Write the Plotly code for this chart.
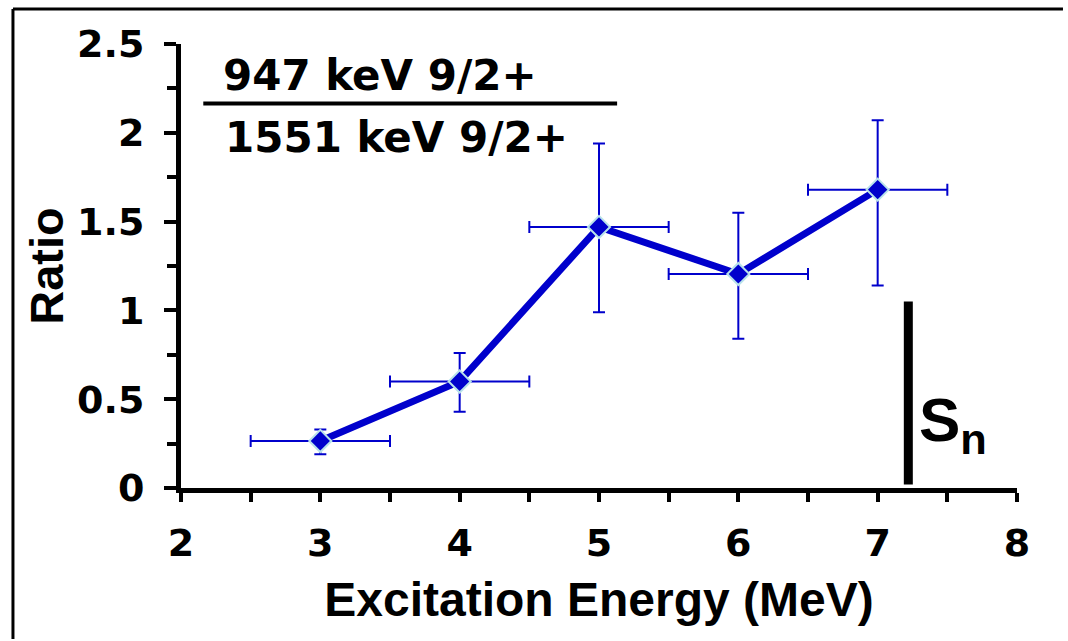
import plotly.graph_objects as go

# Data
energy = [3, 4, 5, 6, 7]
ratio = [0.265, 0.60, 1.47, 1.205, 1.68]
ratio_low = [0.19, 0.43, 0.99, 0.84, 1.14]
ratio_high = [0.33, 0.76, 1.94, 1.55, 2.07]
energy_halfwidth = [0.5, 0.5, 0.5, 0.5, 0.5]
sn_energy = 7.22
sn_range = [0.02, 1.05]
numerator_label = "947 keV 9/2+"
denominator_label = "1551 keV 9/2+"
x_ticks = [2, 3, 4, 5, 6, 7, 8]
y_ticks = [0, 0.5, 1, 1.5, 2, 2.5]
y_tick_text = ["0", "0.5", "1", "1.5", "2", "2.5"]

blue = "#0000CC"
err_plus = [h - v for h, v in zip(ratio_high, ratio)]
err_minus = [v - l for v, l in zip(ratio, ratio_low)]

fig = go.Figure()
fig.add_trace(go.Scatter(
    x=energy, y=ratio, mode="lines+markers",
    line=dict(color=blue, width=7),
    marker=dict(symbol="diamond", size=17, color=blue,
                line=dict(color="#B8E2EA", width=2)),
    error_y=dict(type="data", symmetric=False, array=err_plus,
                 arrayminus=err_minus, color=blue, thickness=2, width=6),
    error_x=dict(type="data", array=energy_halfwidth, color=blue,
                 thickness=2, width=6),
    showlegend=False,
))

# Sn vertical bar
fig.add_shape(type="line", x0=sn_energy, x1=sn_energy, y0=sn_range[0], y1=sn_range[1],
              xref="x", yref="y", line=dict(color="black", width=9))

# Fraction bar
fig.add_shape(type="line", x0=2.16, x1=5.13, y0=2.165, y1=2.165,
              xref="x", yref="y", line=dict(color="black", width=4))

# Frame (top and left border)
fig.add_shape(type="line", xref="paper", yref="paper",
              x0=-0.201, x1=1.055, y0=1.0788, y1=1.0788,
              line=dict(color="black", width=3))
fig.add_shape(type="line", xref="paper", yref="paper",
              x0=-0.201, x1=-0.201, y0=-0.34, y1=1.0788,
              line=dict(color="black", width=3))

fig.add_annotation(x=2.29, y=2.325, xref="x", yref="y", text=numerator_label,
                   showarrow=False, xanchor="left", yanchor="middle",
                   font=dict(family="DejaVu Sans", size=42, color="black", weight="bold"))
fig.add_annotation(x=2.30, y=1.975, xref="x", yref="y", text=denominator_label,
                   showarrow=False, xanchor="left", yanchor="middle",
                   font=dict(family="DejaVu Sans", size=42, color="black", weight="bold"))
fig.add_annotation(x=7.28, y=0.36, xref="x", yref="y", text="S<sub>n</sub>",
                   showarrow=False, xanchor="left", yanchor="middle",
                   font=dict(family="Liberation Sans", size=62, color="black", weight="bold"))

fig.update_xaxes(
    range=[2, 8], tickvals=x_ticks, ticks="outside", ticklen=9, tickwidth=4,
    tickcolor="black", showline=True, linewidth=5, linecolor="black",
    showgrid=False, zeroline=False, ticklabelstandoff=8,
    minor=dict(dtick=0.5, ticks="outside", ticklen=9, tickwidth=4, tickcolor="black"),
    tickfont=dict(family="DejaVu Sans", size=38, color="black", weight="bold"),
    title=dict(text="Excitation Energy (MeV)", standoff=20,
               font=dict(family="Liberation Sans", size=48, color="black", weight="bold")),
)
fig.update_yaxes(
    range=[0, 2.5], tickvals=y_ticks, ticktext=y_tick_text, ticks="outside",
    ticklen=12, tickwidth=4, tickcolor="black", showline=True, linewidth=5,
    linecolor="black", showgrid=False, zeroline=False, ticklabelstandoff=12,
    minor=dict(dtick=0.25, ticks="outside", ticklen=9, tickwidth=4, tickcolor="black"),
    tickfont=dict(family="DejaVu Sans", size=38, color="black", weight="bold"),
    title=dict(text="Ratio", standoff=0,
               font=dict(family="Liberation Sans", size=47, color="black", weight="bold")),
)

fig.update_layout(
    width=1068, height=641,
    margin=dict(l=181, r=51, t=44, b=153),
    paper_bgcolor="white", plot_bgcolor="white",
)

fig.write_html("out.html")
